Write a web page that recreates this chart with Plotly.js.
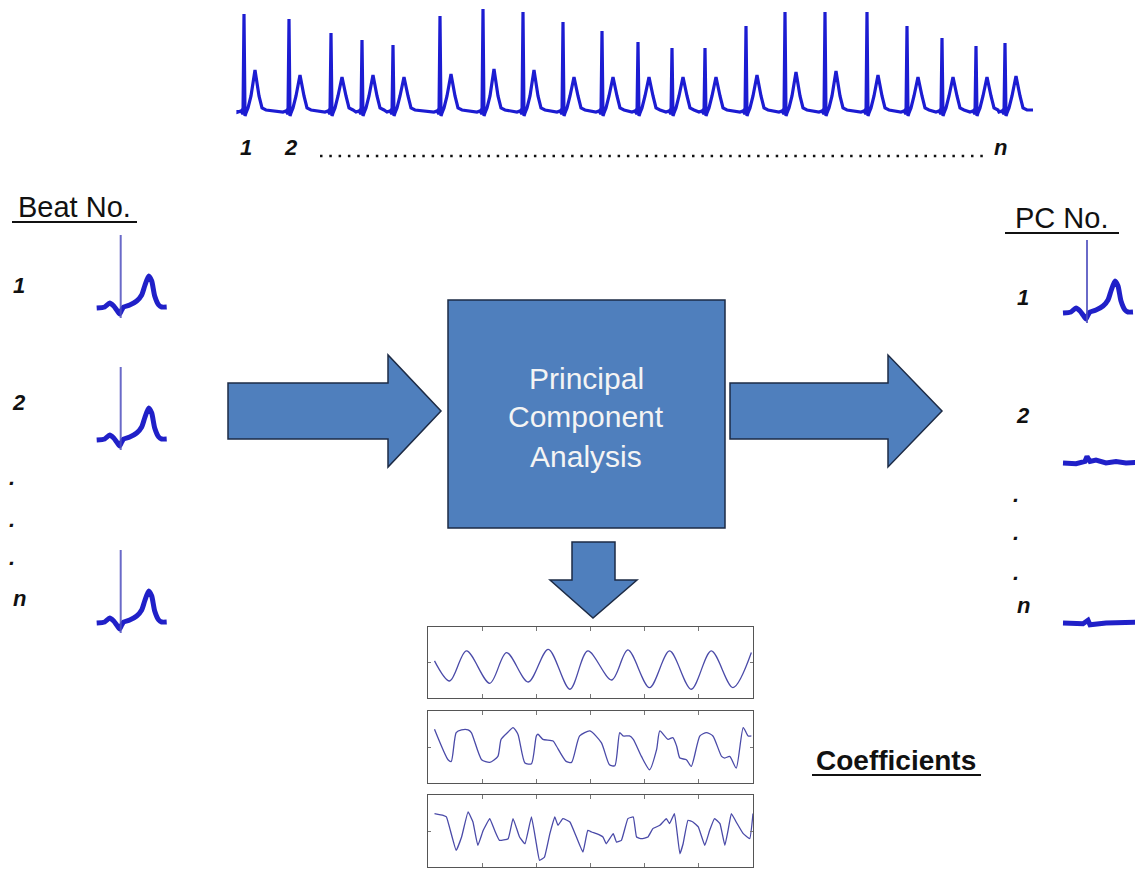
<!DOCTYPE html>
<html><head><meta charset="utf-8">
<script src="https://cdn.plot.ly/plotly-3.0.1.min.js"></script>
<style>html,body{margin:0;padding:0;background:#fff}#chart{width:1135px;height:869px}</style>
</head><body><div id="chart"></div>
<script>
// ---------- DATA ----------
// ECG strip: R-peak times (samples), R amplitudes and T amplitudes (a.u.)
const stripBeatTimes = [244,289,331,362,393,440,483,523,563,602,638,672,705,746,785,825,867,907,942,976,1005];
const stripRAmp      = [96,91,77,70,65,94,101,98,88,79,68,62,62,84,98,98,98,84,72,64,67];
const stripTAmp      = [40,35,33,35,33,36,41,40,33,33,33,33,33,35,38,39,35,33,33,33,34];
// beat waveform template (offset from R, level); 'R' / 'T' take per-beat amplitude
const stripTplOffset = [-6,-3,-1,0,1,2,4,7,11,15,18,22];
const stripTplLevel  = [-2,-1,-4,'R',-6,-3,2,14,'T',14,2,0];
const stripStart = 238, stripEnd = 1033;

// single averaged beat (Beat No. panels) and PC1
const beatT = [0,8,13,17,20,23,25,27,33,40,45,48,52,55,58,62,65,70];
const beatV = [0,1,5,2,-2,-6,-2,1,3,7,13,22,32,27,12,3,1,1];
const spikeT = [24,24];
const spikeV = [73,-10];
// PC 2 and PC n
const pc2T = [0,13,22,24,27,33,43,53,63,74];
const pc2V = [0,-0.7,1.7,6.5,1.5,3,0,1.5,0,0.7];
const pcnT = [0,20,25,27,43,74];
const pcnV = [0,-0.7,2.7,-1.7,0,0.7];

// Coefficient series (sample index 0..600, normalized amplitude)
const coef1T = [12,40,71,114,145,185,222,262,295,339,369,409,446,486,523,563,597];
const coef1V = [0.05,-0.56,0.35,-0.63,0.30,-0.59,0.40,-0.81,0.35,-0.53,0.38,-0.76,0.35,-0.81,0.35,-0.76,0.30];
const coef2T = [12,37,43,52,62,74,80,99,114,129,135,148,157,166,179,191,200,203,212,231,237,255,265,280,299,320,335,345,354,360,372,379,394,409,422,428,443,452,459,465,477,486,502,514,526,542,548,557,569,582,591,597];
const coef2V = [0.53,-0.38,-0.43,0.43,0.51,0.51,0.43,-0.38,-0.46,-0.28,0.23,0.45,0.58,0.38,-0.48,-0.50,0.33,0.38,0.23,0.18,0.03,-0.43,-0.46,0.33,0.48,0.13,-0.53,-0.56,0.43,0.33,0.33,0.23,-0.28,-0.68,-0.08,0.48,0.23,0.28,0.03,-0.33,-0.38,-0.58,0.33,0.43,0.33,-0.28,-0.33,-0.28,-0.63,0.58,0.33,0.33];
const coef3T = [12,28,34,52,62,74,83,92,102,114,123,132,148,157,169,179,191,200,206,215,225,234,240,249,262,274,286,295,302,311,323,329,342,348,357,369,379,385,394,406,415,428,440,446,455,465,471,480,489,499,511,520,529,539,548,554,560,569,582,594,600];
const coef3V = [0.52,0.47,0.42,-0.58,-0.18,0.57,0.27,-0.43,0.02,0.37,0.02,-0.28,-0.23,0.37,-0.18,-0.38,0.42,-0.38,-0.88,-0.78,-0.08,0.42,0.17,0.37,0.27,-0.18,-0.63,0.02,-0.03,-0.08,-0.18,-0.38,-0.08,-0.33,-0.28,0.37,0.42,-0.18,-0.23,-0.18,0.07,0.17,0.37,0.22,0.52,-0.68,-0.38,0.32,0.27,0.12,-0.43,0.02,0.37,0.22,-0.43,0.02,0.52,0.27,-0.08,-0.23,0.52];
const coefTicks = [100,200,300,400,500];

// Text labels
const boxText = ['Principal','Component','Analysis'];
const stripLabels = ['1','2','n'];
const beatLabels = ['1','2','n'];
const pcLabels = ['1','2','n'];

// ---------- BUILD ----------
const W = 1135, H = 869;
const X = p => p / W, Y = p => 1 - p / H;
const ecgBlue = 'rgb(28,28,210)';
const beatBlue = 'rgb(32,32,200)';
const traces = [];
const F = 'Liberation Sans';
const layout = {
  width: W, height: H, margin: {l:0,r:0,t:0,b:0},
  paper_bgcolor: '#fff', plot_bgcolor: 'rgba(0,0,0,0)',
  font: {family: F},
  showlegend: false, shapes: [], annotations: []
};
let axN = 0;
function panel(px0, px1, py0, py1, xr, yr, xo, yo) {
  axN++;
  const sfx = axN === 1 ? '' : String(axN);
  const base = {visible:false, showgrid:false, zeroline:false, fixedrange:true};
  layout['xaxis' + sfx] = Object.assign({}, base, {domain:[X(px0), X(px1)], range:xr, anchor:'y' + sfx}, xo || {});
  layout['yaxis' + sfx] = Object.assign({}, base, {domain:[Y(py1), Y(py0)], range:yr, anchor:'x' + sfx}, yo || {});
  return {xaxis: 'x' + sfx, yaxis: 'y' + sfx};
}

// ECG strip
{
  const ax = panel(234, 1037, 0, 125, [234, 1037], [-15, 110]);
  const xs = [stripStart], ys = [0];
  stripBeatTimes.forEach((t, i) => {
    stripTplOffset.forEach((o, k) => {
      const l = stripTplLevel[k];
      xs.push(t + o);
      ys.push(l === 'R' ? stripRAmp[i] : l === 'T' ? stripTAmp[i] : l);
    });
  });
  xs.push(stripEnd); ys.push(0);
  traces.push(Object.assign({x: xs, y: ys, type:'scatter', mode:'lines', line:{color:ecgBlue, width:3.2}, hoverinfo:'skip'}, ax));
  traces.push(Object.assign({x: stripBeatTimes, y: stripBeatTimes.map(() => -1), type:'scatter', mode:'markers', marker:{color:ecgBlue, size:7}, hoverinfo:'skip'}, ax));
}

// Beat panels (left)
[308, 440, 623].forEach(base => {
  const ax = panel(90, 175, base - 83, base + 17, [-6.7, 78.3], [-17, 83]);
  traces.push(Object.assign({x: beatT, y: beatV, type:'scatter', mode:'lines', line:{color:beatBlue, width:5, shape:'spline', smoothing:0.6}, hoverinfo:'skip'}, ax));
  traces.push(Object.assign({x: spikeT, y: spikeV, type:'scatter', mode:'lines', line:{color:'rgba(80,80,190,0.85)', width:2}, hoverinfo:'skip'}, ax));
});

// PC panels (right)
{
  let ax = panel(1056, 1135, 313 - 83, 313 + 17, [-7, 72], [-17, 83]);
  traces.push(Object.assign({x: beatT, y: beatV, type:'scatter', mode:'lines', line:{color:beatBlue, width:5, shape:'spline', smoothing:0.6}, hoverinfo:'skip'}, ax));
  traces.push(Object.assign({x: spikeT, y: spikeV, type:'scatter', mode:'lines', line:{color:'rgba(80,80,190,0.85)', width:2}, hoverinfo:'skip'}, ax));
  ax = panel(1056, 1135, 463 - 83, 463 + 17, [-7, 72], [-17, 83]);
  traces.push(Object.assign({x: pc2T, y: pc2V, type:'scatter', mode:'lines', line:{color:beatBlue, width:5}, hoverinfo:'skip'}, ax));
  ax = panel(1056, 1135, 623 - 83, 623 + 17, [-7, 72], [-17, 83]);
  traces.push(Object.assign({x: pcnT, y: pcnV, type:'scatter', mode:'lines', line:{color:beatBlue, width:5}, hoverinfo:'skip'}, ax));
}

// Coefficient panels
const coefAxisX = {visible:true, showline:true, mirror:'ticks', linecolor:'#555', linewidth:1.4, ticks:'inside', ticklen:4, tickcolor:'#777', tickvals:coefTicks, showticklabels:false};
const coefAxisY = {visible:true, showline:true, mirror:'ticks', linecolor:'#555', linewidth:1.4, ticks:'inside', ticklen:3, tickcolor:'#777', tickvals:[0], showticklabels:false};
[[627, 698, coef1T, coef1V, 0.9], [711, 783, coef2T, coef2V, 0.6], [795, 867, coef3T, coef3V, 0.3]].forEach(([t0, t1, tx, ty, sm]) => {
  const ax = panel(428, 753, t0, t1, [0, 600], [-1.075, 1.075], coefAxisX, coefAxisY);
  traces.push(Object.assign({x: tx, y: ty, type:'scatter', mode:'lines', line:{color:'#4a4aa8', width:1.3, shape:'spline', smoothing:sm}, hoverinfo:'skip'}, ax));
});

// ---------- SHAPES ----------
const fill = '#4f7fbd', edge = '#1d2b45';
function poly(pts) {
  return 'M ' + pts.map(p => X(p[0]) + ' ' + Y(p[1])).join(' L ') + ' Z';
}
layout.shapes.push({type:'path', xref:'paper', yref:'paper', path: poly([[228,383],[388,383],[388,355],[441,411],[388,467],[388,439],[228,439]]), fillcolor:fill, line:{color:edge, width:1.5}, layer:'below'});
layout.shapes.push({type:'path', xref:'paper', yref:'paper', path: poly([[730,383],[888,383],[888,355],[942,411],[888,467],[888,439],[730,439]]), fillcolor:fill, line:{color:edge, width:1.5}, layer:'below'});
layout.shapes.push({type:'path', xref:'paper', yref:'paper', path: poly([[572,542],[615,542],[615,580],[637,580],[593,618],[550,580],[572,580]]), fillcolor:fill, line:{color:edge, width:1.5}, layer:'below'});
layout.shapes.push({type:'rect', xref:'paper', yref:'paper', x0:X(448), x1:X(725), y0:Y(528), y1:Y(300), fillcolor:fill, line:{color:edge, width:1.5}, layer:'below'});
// underlines
[[12,137,222],[1005,1119,233],[812,981,775]].forEach(([a,b,y]) => layout.shapes.push({type:'line', xref:'paper', yref:'paper', x0:X(a), x1:X(b), y0:Y(y), y1:Y(y), line:{color:'#111', width:2}}));
// dotted line under strip
layout.shapes.push({type:'line', xref:'paper', yref:'paper', x0:X(320), x1:X(985), y0:Y(156), y1:Y(156), line:{color:'#111', width:2.5, dash:'2.5px,6.8px'}});

// ---------- TEXT ----------
function txt(s, x, y, size, color, xa) {
  layout.annotations.push({text:s, x:X(x), y:Y(y), xref:'paper', yref:'paper', showarrow:false, xanchor:xa||'center', yanchor:'middle', font:{family:F, size:size, color:color||'#111'}});
}
const bi = s => '<b><i>' + s + '</i></b>';
boxText.forEach((s, i) => txt(s, 586, 378 + i * 39, 30, '#f4f4f4'));
[246, 291, 1001].forEach((x, i) => txt(bi(stripLabels[i]), x, 147, 22));
txt('Beat No.', 74, 207, 29, '#111');
txt('PC No.', 1061, 218, 29, '#111');
txt('<b>Coefficients</b>', 896, 760, 28, '#111');
[285, 402, 598].forEach((y, i) => txt(bi(beatLabels[i]), 19, y, 22));
[483, 525, 563].forEach(y => txt(bi('.'), 12, y - 6, 22));
[297, 415, 605].forEach((y, i) => txt(bi(pcLabels[i]), 1023, y, 22));
[500, 538, 578].forEach(y => txt(bi('.'), 1016, y - 6, 22));

Plotly.newPlot('chart', traces, layout, {displayModeBar:false, staticPlot:true});
</script>
</body></html>
